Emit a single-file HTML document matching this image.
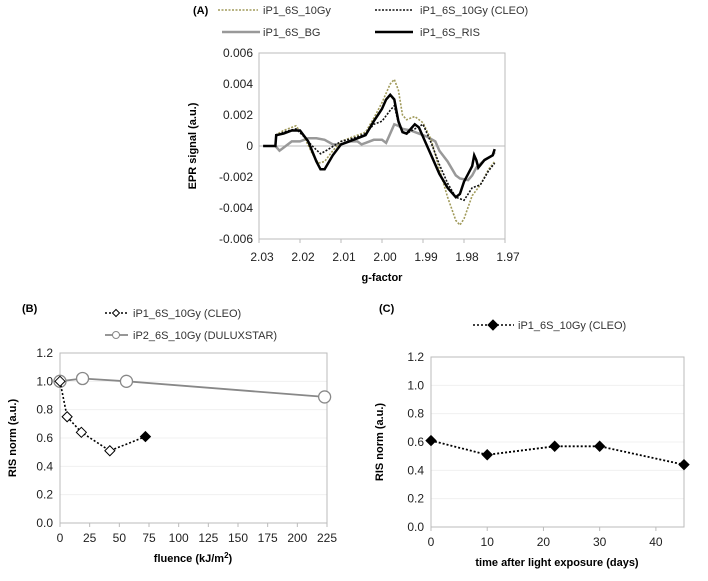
<!DOCTYPE html>
<html><head><meta charset="utf-8"><style>
body{margin:0;background:#fff;}
svg{display:block;font-family:"Liberation Sans",sans-serif;}
</style></head><body>
<svg id="s" width="708" height="581" viewBox="0 0 708 581"></svg>
<script>
// Panel A data (signal in units of 0.001)
const risG=[2.029,2.026,2.0258,2.024,2.022,2.020,2.018,2.016,2.015,2.014,2.012,2.010,2.008,2.006,2.004,2.002,2.000,1.999,1.998,1.997,1.996,1.995,1.994,1.993,1.992,1.991,1.990,1.988,1.986,1.984,1.982,1.981,1.980,1.979,1.978,1.9775,1.977,1.9765,1.975,1.973,1.9725];
const risV=[0,0,0.7,0.8,1.0,1.0,0.3,-1.0,-1.5,-1.5,-0.6,0.1,0.3,0.5,0.7,1.6,2.4,3.0,3.3,3.0,1.6,0.9,0.8,1.1,1.4,1.2,0.6,-0.6,-1.8,-2.7,-3.3,-3.1,-2.3,-1.8,-1.3,-0.6,-0.9,-1.4,-0.9,-0.6,-0.2];
const bgG=[2.026,2.025,2.024,2.022,2.020,2.018,2.016,2.014,2.012,2.010,2.008,2.006,2.005,2.004,2.002,2.000,1.999,1.998,1.997,1.996,1.995,1.993,1.991,1.989,1.987,1.986,1.984,1.982,1.981,1.979,1.978,1.977,1.975,1.973,1.9725];
const bgV=[0,-0.3,-0.1,0.3,0.3,0.5,0.5,0.4,0.1,0.1,0.3,0.3,0.1,0.2,0.4,0.4,0.2,0.8,1.4,1.3,1.1,1.0,0.8,0.6,0.3,-0.3,-1.0,-1.9,-2.1,-2.2,-1.9,-1.4,-0.9,-0.6,-0.4];
const g10G=[2.026,2.024,2.021,2.019,2.017,2.0155,2.014,2.012,2.010,2.007,2.004,2.002,2.000,1.998,1.997,1.996,1.995,1.994,1.992,1.990,1.988,1.986,1.984,1.982,1.981,1.980,1.978,1.976,1.974,1.9725];
const g10V=[0.7,1.0,1.3,0.6,-0.5,-1.1,-1.0,-0.3,0.3,0.6,0.9,1.8,2.8,4.0,4.3,3.6,2.0,1.7,1.9,1.5,0.4,-1.5,-3.3,-4.8,-5.1,-4.7,-3.2,-2.5,-1.5,-1.0];
const cleoG=[2.026,2.024,2.021,2.019,2.017,2.015,2.013,2.010,2.007,2.004,2.002,2.000,1.998,1.997,1.996,1.995,1.994,1.992,1.990,1.988,1.986,1.984,1.982,1.980,1.978,1.976,1.974,1.9725];
const cleoV=[0.6,0.9,1.1,0.6,0.0,-0.5,-0.2,0.3,0.5,0.8,1.4,1.6,2.3,2.6,1.5,0.9,0.8,1.1,1.4,0.2,-1.2,-2.4,-3.3,-3.5,-2.7,-2.5,-1.6,-1.1];
const aYTicks=["0.006","0.004","0.002","0","-0.002","-0.004","-0.006"];
const aXTicks=["2.03","2.02","2.01","2.00","1.99","1.98","1.97"];
// Panel B
const bCleoX=[0,6,18,42,72];
const bCleoY=[1.0,0.75,0.64,0.51,0.61];
const bDuluxX=[0,19,56,223];
const bDuluxY=[1.0,1.02,1.0,0.89];
const bXTicks=[0,25,50,75,100,125,150,175,200,225];
// Panel C
const cX=[0,10,22,30,45];
const cY=[0.61,0.51,0.57,0.57,0.44];
const cXTicks=[0,10,20,30,40];
const rTicks=["0.0","0.2","0.4","0.6","0.8","1.0","1.2"];

const S=document.getElementById('s');
const NS='http://www.w3.org/2000/svg';
function mk(tag,at,txt,name){const e=document.createElementNS(NS,tag);for(const k in at)e.setAttribute(k,at[k]);if(txt!==undefined)e.textContent=txt;


S.appendChild(e);return e;}
function poly(xs,ys,fx,fy,st,name){let d=xs.map((x,i)=>(i?'L':'M')+fx(x).toFixed(1)+','+fy(ys[i]).toFixed(1)).join('');return mk('path',Object.assign({d:d,fill:'none'},st),undefined,name);}

// ---- Panel A ----
const aL=259,aR=505,aT=53,aB=239;
const ax=g=>aL+(2.03-g)/0.06*(aR-aL);
const ay=v=>aT+(6-v)/12*(aB-aT);
mk('rect',{x:aL,y:aT,width:aR-aL,height:aB-aT,fill:'none',stroke:'#bbb','stroke-width':1},undefined,'plot-area-a');
mk('line',{x1:aL,y1:ay(0),x2:aR,y2:ay(0),stroke:'#bbb'},undefined,'zero-axis-a');
aYTicks.forEach((t,i)=>{const v=6-2*i;mk('text',{x:aL-6,y:ay(v)+4,'text-anchor':'end','font-size':12,fill:'#222'},t,'y-tick-a');});
aXTicks.forEach((t,i)=>{const g=2.03-0.01*i;mk('text',{x:ax(g)+3,y:261,'text-anchor':'middle','font-size':12,fill:'#222'},t,'x-tick-a');
mk('line',{x1:ax(g),y1:aB,x2:ax(g),y2:aB+4,stroke:'#bbb'},undefined,'x-tick-mark-a');});
mk('text',{x:382,y:281,'text-anchor':'middle','font-size':11,'font-weight':'bold'},'g-factor','x-axis-title-a');
mk('text',{x:196,y:146,'text-anchor':'middle','font-size':11,'font-weight':'bold',transform:'rotate(-90 196 146)'},'EPR signal (a.u.)','y-axis-title-a');
poly(bgG,bgV,ax,ay,{stroke:'#999','stroke-width':2.5},'series-bg');
poly(g10G,g10V,ax,ay,{stroke:'#a09a5a','stroke-width':1.6,'stroke-dasharray':'2 1.5'},'series-10gy');
poly(cleoG,cleoV,ax,ay,{stroke:'#111','stroke-width':1.6,'stroke-dasharray':'2 1.5'},'series-cleo');
poly(risG,risV,ax,ay,{stroke:'#000','stroke-width':2.5},'series-ris');
mk('text',{x:193,y:14,'font-size':11,'font-weight':'bold'},'(A)','panel-label-a');
mk('line',{x1:218,y1:10,x2:258,y2:10,stroke:'#a09a5a','stroke-width':1.6,'stroke-dasharray':'2 1.5'},undefined,'legend-10gy-line');
mk('text',{x:263,y:14,'font-size':11,fill:'#333'},'iP1_6S_10Gy','legend-10gy');
mk('line',{x1:375,y1:10,x2:413,y2:10,stroke:'#111','stroke-width':1.6,'stroke-dasharray':'2 1.5'},undefined,'legend-cleo-line');
mk('text',{x:420,y:14,'font-size':11,fill:'#333'},'iP1_6S_10Gy (CLEO)','legend-cleo');
mk('line',{x1:222,y1:32,x2:260,y2:32,stroke:'#999','stroke-width':2.5},undefined,'legend-bg-line');
mk('text',{x:263,y:36,'font-size':11,fill:'#333'},'iP1_6S_BG','legend-bg');
mk('line',{x1:375,y1:32,x2:413,y2:32,stroke:'#000','stroke-width':2.5},undefined,'legend-ris-line');
mk('text',{x:420,y:36,'font-size':11,fill:'#333'},'iP1_6S_RIS','legend-ris');

// ---- shared helper for B,C ----
function frame(L,R,T,B,p,xt,xmax,ytx){
  const fy=v=>B-v/1.2*(B-T);
  rTicks.forEach((t,i)=>{const v=0.2*i;
    if(i>0&&i<6) mk('line',{x1:L,y1:fy(v),x2:R,y2:fy(v),stroke:'#f0f0f0'},undefined,'gridline-'+p);
    mk('text',{x:L-7,y:fy(v)+4,'text-anchor':'end','font-size':12,fill:'#222'},t,'y-tick-'+p);});
  mk('rect',{x:L,y:T,width:R-L,height:B-T,fill:'none',stroke:'#bbb'},undefined,'plot-area-'+p);
  const fx=x=>L+x/xmax*(R-L);
  xt.forEach(t=>{mk('text',{x:fx(t),y:B+19,'text-anchor':'middle','font-size':12,fill:'#222'},String(t),'x-tick-'+p);
    mk('line',{x1:fx(t),y1:B,x2:fx(t),y2:B+4,stroke:'#bbb'},undefined,'x-tick-mark-'+p);});
  mk('text',{x:ytx,y:(T+B)/2,'text-anchor':'middle','font-size':11,'font-weight':'bold',transform:'rotate(-90 '+ytx+' '+(T+B)/2+')'},'RIS norm (a.u.)','y-axis-title-'+p);
  return [fx,fy];
}
function diamond(x,y,fill,name,r){r=r||5;mk('path',{d:`M${x},${y-r}L${x+r},${y}L${x},${y+r}L${x-r},${y}Z`,fill:fill,stroke:'#000','stroke-width':1},undefined,name);}

// ---- Panel B ----
const [bx,by]=frame(60,327,353,523,'b',bXTicks,225,16);
const bt=mk('text',{x:193,y:562,'text-anchor':'middle','font-size':11,'font-weight':'bold'},'fluence (kJ/m','x-axis-title-b');
const sup=document.createElementNS(NS,'tspan');sup.setAttribute('font-size',8);sup.setAttribute('dy',-4);sup.textContent='2';


bt.appendChild(sup);
const cl=document.createElementNS(NS,'tspan');cl.setAttribute('dy',4);cl.textContent=')';


bt.appendChild(cl);
poly(bDuluxX,bDuluxY,bx,by,{stroke:'#888','stroke-width':1.8},'series-duluxstar');
bDuluxX.forEach((x,i)=>mk('circle',{cx:bx(x),cy:by(bDuluxY[i]),r:6,fill:'#fff',stroke:'#888','stroke-width':1.3},undefined,'point-duluxstar'));
poly(bCleoX,bCleoY,bx,by,{stroke:'#000','stroke-width':1.6,'stroke-dasharray':'2 2'},'series-cleo-b');
bCleoX.forEach((x,i)=>diamond(bx(x),by(bCleoY[i]),i===bCleoX.length-1?'#000':'#fff','point-cleo-b'));
mk('text',{x:22,y:312,'font-size':11,'font-weight':'bold'},'(B)','panel-label-b');
mk('line',{x1:105,y1:313,x2:128,y2:313,stroke:'#000','stroke-width':1.4,'stroke-dasharray':'2 2'},undefined,'legend-b-cleo-line');
diamond(116,313,'#fff','legend-b-cleo-marker',3.5);
mk('text',{x:133,y:317,'font-size':11,fill:'#333'},'iP1_6S_10Gy (CLEO)','legend-b-cleo');
mk('line',{x1:105,y1:335,x2:128,y2:335,stroke:'#888','stroke-width':1.8},undefined,'legend-b-dulux-line');
mk('circle',{cx:116,cy:335,r:3.5,fill:'#fff',stroke:'#888'},undefined,'legend-b-dulux-marker');
mk('text',{x:133,y:339,'font-size':11,fill:'#333'},'iP2_6S_10Gy (DULUXSTAR)','legend-b-dulux');

// ---- Panel C ----
const [cx,cy]=frame(431,684,357,527,'c',cXTicks,45,383);
mk('text',{x:557,y:566,'text-anchor':'middle','font-size':11,'font-weight':'bold'},'time after light exposure (days)','x-axis-title-c');
poly(cX,cY,cx,cy,{stroke:'#000','stroke-width':1.8,'stroke-dasharray':'2 2'},'series-cleo-c');
cX.forEach((x,i)=>diamond(cx(x),cy(cY[i]),'#000','point-cleo-c'));
mk('text',{x:379,y:312,'font-size':11,'font-weight':'bold'},'(C)','panel-label-c');
mk('line',{x1:473,y1:325,x2:514,y2:325,stroke:'#000','stroke-width':1.6,'stroke-dasharray':'2 2'},undefined,'legend-c-line');
diamond(493,325,'#000','legend-c-marker');
mk('text',{x:518,y:329,'font-size':11,fill:'#333'},'iP1_6S_10Gy (CLEO)','legend-c');
</script>
</body></html>
